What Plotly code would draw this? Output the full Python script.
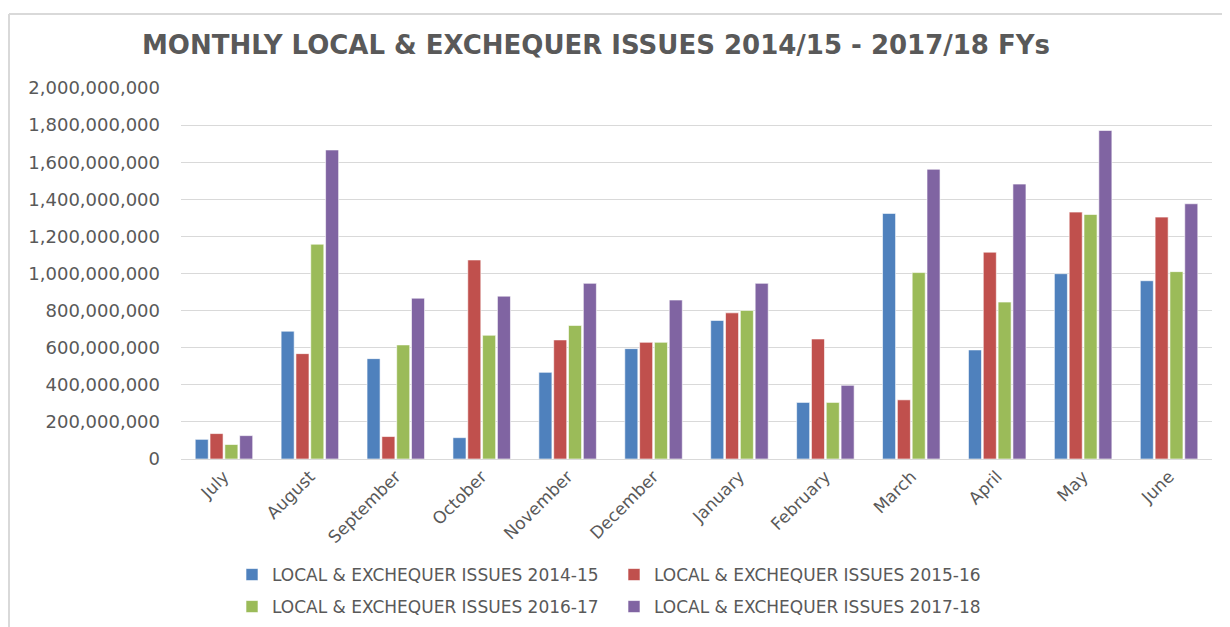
import plotly.graph_objects as go

months = ["July", "August", "September", "October", "November", "December",
          "January", "February", "March", "April", "May", "June"]

series_names = ["LOCAL & EXCHEQUER ISSUES 2014-15", "LOCAL & EXCHEQUER ISSUES 2015-16",
                "LOCAL & EXCHEQUER ISSUES 2016-17", "LOCAL & EXCHEQUER ISSUES 2017-18"]

fy_2014_15 = [106e6, 689e6, 541e6, 115e6, 467e6, 595e6, 747e6, 305e6, 1324e6, 588e6, 999e6, 961e6]
fy_2015_16 = [137e6, 568e6, 121e6, 1073e6, 642e6, 629e6, 788e6, 647e6, 319e6, 1115e6, 1331e6, 1304e6]
fy_2016_17 = [78e6, 1158e6, 615e6, 667e6, 720e6, 629e6, 801e6, 305e6, 1005e6, 846e6, 1318e6, 1010e6]
fy_2017_18 = [126e6, 1666e6, 867e6, 878e6, 947e6, 857e6, 947e6, 397e6, 1562e6, 1482e6, 1771e6, 1376e6]

y_ticks = [0, 200e6, 400e6, 600e6, 800e6, 1000e6, 1200e6, 1400e6, 1600e6, 1800e6, 2000e6]
y_tick_labels = ["0", "200,000,000", "400,000,000", "600,000,000", "800,000,000",
                 "1,000,000,000", "1,200,000,000", "1,400,000,000", "1,600,000,000",
                 "1,800,000,000", "2,000,000,000"]

colors = ["#4F81BD", "#C0504D", "#9BBB59", "#8064A2"]
legends = ["legend", "legend", "legend2", "legend2"]

# page has an 8px body margin; figure coordinates are screen coordinates minus 8
OFF = 8
W, H = 1230 - OFF, 627 - OFF
L = 181 - OFF
T = 88 - OFF
R = W - (1212 - OFF)
B = H - (459 - OFF)
pw, ph = W - L - R, H - T - B

def px_to_x(px):
    return (px - OFF - L) / pw

def px_to_y(py):
    return (H - B - (py - OFF)) / ph

def cx(px):
    return (px - OFF) / W

def cy(py):
    return 1 - (py - OFF) / H

fig = go.Figure()
for name, vals, col, lg in zip(series_names, [fy_2014_15, fy_2015_16, fy_2016_17, fy_2017_18], colors, legends):
    fig.add_trace(go.Bar(
        x=months, y=vals, name=name, legend=lg,
        marker=dict(color=col, line=dict(color="rgba(255,255,255,0.6)", width=1)),
    ))

font_gray = "#595959"
legend_common = dict(orientation="h", x=cx(232), xanchor="left", xref="container",
                     yanchor="middle", yref="container",
                     entrywidth=337, entrywidthmode="pixels",
                     font=dict(size=17, color=font_gray), bgcolor="rgba(0,0,0,0)")

fig.update_layout(
    width=W, height=H,
    margin=dict(l=L, r=R, t=T, b=B, autoexpand=False),
    paper_bgcolor="white", plot_bgcolor="white",
    barmode="group", bargap=0.31, bargroupgap=0.12,
    title=dict(text="<b>MONTHLY LOCAL &amp; EXCHEQUER ISSUES 2014/15 - 2017/18 FYs</b>",
               x=cx(596), xanchor="center", xref="container",
               y=cy(45), yanchor="middle", yref="container",
               font=dict(family="DejaVu Sans", size=26, color=font_gray)),
    font=dict(family="DejaVu Sans", color=font_gray),
    xaxis=dict(tickangle=-45, tickfont=dict(size=17, color=font_gray),
               showline=True, linecolor="#D9D9D9", linewidth=1, ticks="",
               showgrid=False),
    yaxis=dict(range=[0, 2000e6], tickvals=y_ticks, ticktext=y_tick_labels,
               tickfont=dict(size=18, color=font_gray),
               showgrid=True, gridcolor="#D9D9D9", gridwidth=1,
               zeroline=False, showline=False, ticks="", ticklabelstandoff=20),
    legend=dict(legend_common, y=cy(575)),
    legend2=dict(legend_common, y=cy(607)),
    shapes=[
        dict(type="line", xref="paper", yref="paper",
             x0=px_to_x(9), x1=px_to_x(1240), y0=px_to_y(14), y1=px_to_y(14),
             line=dict(color="#D9D9D9", width=2)),
        dict(type="line", xref="paper", yref="paper",
             x0=px_to_x(9), x1=px_to_x(9), y0=px_to_y(14), y1=px_to_y(640),
             line=dict(color="#D9D9D9", width=2)),
    ],
    showlegend=True,
)

fig.write_html("out.html")
